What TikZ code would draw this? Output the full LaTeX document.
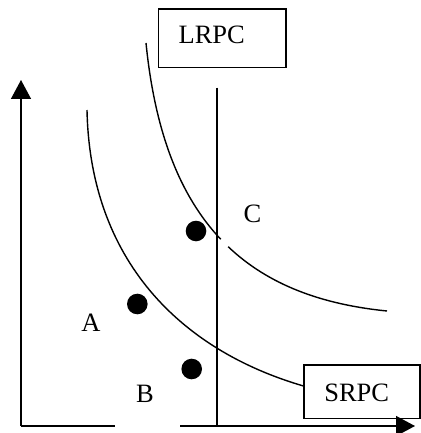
\documentclass[tikz,border=0pt]{standalone}
\usepackage{fontspec}
\setmainfont{Liberation Serif}
\usetikzlibrary{arrows.meta}
\begin{document}
\begin{tikzpicture}[x=1pt,y=-1pt,
  ln/.style={line width=1.4pt},
  ax/.style={line width=1.4pt,-{Triangle[width=20pt,length=19pt]}},
  dot/.style={circle,fill=black,inner sep=0pt,minimum size=20.6pt},
  lbl/.style={font=\fontsize{26.5}{30}\selectfont,anchor=base,inner sep=0pt},
  box/.style={draw,line width=1.4pt,inner sep=0pt}]
\useasboundingbox (0,0) rectangle (420,433);
% axes
\coordinate (o) at (21,426);
\coordinate (ytip) at (21,80);
\coordinate (xa) at (115,426);
\coordinate (xb) at (180,426);
\coordinate (xtip) at (415,426);
\draw[ax] (o) -- (ytip);
\draw[ln] (o) -- (xa);
\draw[ax] (xb) -- (xtip);
% vertical line
\coordinate (vtop) at (217,87.7);
\coordinate (vbot) at (217,426);
\draw[ln] (vtop) -- (vbot);
% boxes
\node[box,minimum width=127.7pt,minimum height=58.7pt] (lrpcbox) at (222.15,38.35) {};
\node[lbl] (lrpc) at (211.7,43.3) {LRPC};
\node[box,minimum width=116pt,minimum height=53.3pt] (srpcbox) at (362,391.65) {};
\node[lbl] (srpc) at (356.7,401.7) {SRPC};
% SRPC curve
\coordinate (s0) at (87,110);
\coordinate (s1) at (303.5,386);
\draw[ln] (s0) .. controls (90,260) and (180,350) .. (s1);
% LRPC curve (with a small gap)
\coordinate (l0) at (146,43);
\coordinate (lm) at (220.75,239.25);
\coordinate (ln2) at (228.21,246.73);
\coordinate (l1) at (387,311);
\draw[ln] (l0) .. controls (155,133) and (180.25,196.5) .. (lm);
\draw[ln] (ln2) .. controls (268.0,284.57) and (321.2,304.42) .. (l1);
% dots
\node[dot] (dc) at (196,231) {};
\node[dot] (da) at (137.3,304) {};
\node[dot] (db) at (191.7,369) {};
% labels
\node[lbl] (la) at (91,331) {A};
\node[lbl] (lb) at (145,402) {B};
\node[lbl] (lc) at (252.5,222.5) {C};
\end{tikzpicture}
\end{document}
